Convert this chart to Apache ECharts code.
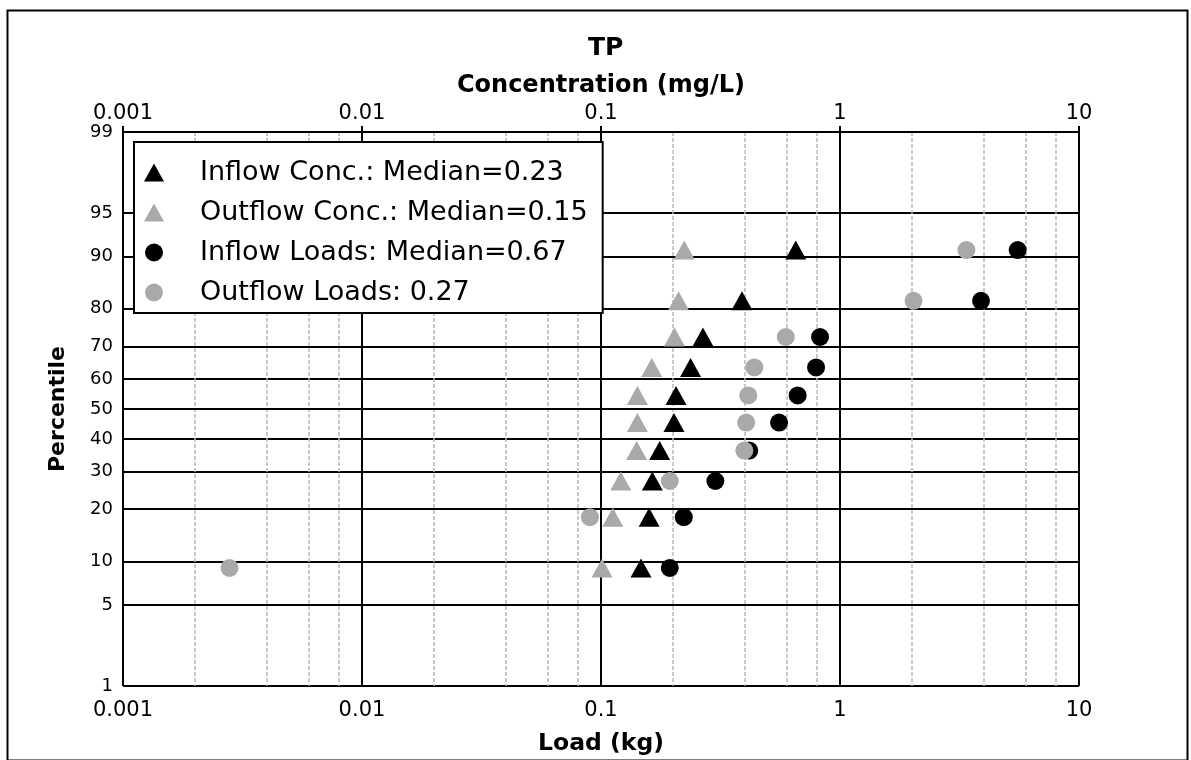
<!DOCTYPE html>
<html>
<head>
<meta charset="utf-8">
<script src="https://cdn.jsdelivr.net/npm/echarts@6/dist/echarts.min.js"></script>
<style>
  html, body { margin: 0; padding: 0; background: #fff; }
  #chart { width: 1191px; height: 760px; }
</style>
</head>
<body>
<div id="chart"></div>
<script>
// plotting positions (percentile), same for all four series
var percentiles = [9.09, 18.18, 27.27, 36.36, 45.45, 54.55, 63.64, 72.73, 81.82, 90.91]

var inflowConc = [0.147, 0.159, 0.164, 0.176, 0.202, 0.206, 0.237, 0.267, 0.389, 0.653]
var outflowConc = [0.101, 0.112, 0.121, 0.141, 0.142, 0.142, 0.163, 0.203, 0.211, 0.223]
var inflowLoads = [0.194, 0.222, 0.301, 0.417, 0.556, 0.665, 0.794, 0.825, 3.89, 5.54]
var outflowLoads = [0.00279, 0.0899, 0.194, 0.398, 0.405, 0.413, 0.438, 0.593, 2.03, 3.38]

var seriesNames = [
  'Inflow Conc.: Median=0.23',
  'Outflow Conc.: Median=0.15',
  'Inflow Loads: Median=0.67',
  'Outflow Loads: 0.27',
]

var percentTicks = [1, 5, 10, 20, 30, 40, 50, 60, 70, 80, 90, 95, 99]
var minorMultipliers = [2, 4, 6, 8]

var FONT = 'DejaVu Sans'
var gray = '#a9a9a9'

// inverse normal cdf (Acklam) -> probability axis
function probit(p) {
  var a = [-39.69683028665376, 220.9460984245205, -275.9285104469687, 138.357751867269, -30.66479806614716, 2.506628277459239]
  var b = [-54.47609879822406, 161.5858368580409, -155.6989798598866, 66.80131188771972, -13.28068155288572]
  var c = [-0.007784894002430293, -0.3223964580411365, -2.400758277161838, -2.549732539343734, 4.374664141464968, 2.938163982698783]
  var d = [0.007784695709041462, 0.3224671290700398, 2.445134137142996, 3.754408661907416]
  var pl = 0.02425, q, r
  if (p < pl) {
    q = Math.sqrt(-2 * Math.log(p))
    return (((((c[0] * q + c[1]) * q + c[2]) * q + c[3]) * q + c[4]) * q + c[5]) / ((((d[0] * q + d[1]) * q + d[2]) * q + d[3]) * q + 1)
  }
  if (p > 1 - pl) {
    q = Math.sqrt(-2 * Math.log(1 - p))
    return -(((((c[0] * q + c[1]) * q + c[2]) * q + c[3]) * q + c[4]) * q + c[5]) / ((((d[0] * q + d[1]) * q + d[2]) * q + d[3]) * q + 1)
  }
  q = p - 0.5
  r = q * q
  return (((((a[0] * r + a[1]) * r + a[2]) * r + a[3]) * r + a[4]) * r + a[5]) * q / (((((b[0] * r + b[1]) * r + b[2]) * r + b[3]) * r + b[4]) * r + 1)
}

var zTicks = percentTicks.map(function (p) { return probit(p / 100) })
var zMin = zTicks[0]
var zMax = zTicks[zTicks.length - 1]

// minor grid (2,4,6,8 of every decade) on a log10 helper axis
var minorTicks = []
for (var dec = -3; dec < 1; dec++) {
  minorMultipliers.forEach(function (m) { minorTicks.push(dec + Math.log10(m)) })
}

function pairs(xs) {
  return xs.map(function (v, i) { return [v, probit(percentiles[i] / 100)] })
}

function percentLabel(v) {
  var best = 0
  for (var i = 1; i < zTicks.length; i++) {
    if (Math.abs(zTicks[i] - v) < Math.abs(zTicks[best] - v)) best = i
  }
  return String(percentTicks[best])
}

var chart = echarts.init(document.getElementById('chart'), null, { renderer: 'canvas' })

var axisLabelBase = { color: '#000', fontFamily: FONT, fontSize: 21 }

var option = {
  backgroundColor: '#fff',
  animation: false,
  textStyle: { fontFamily: FONT },
  title: {
    text: 'TP',
    left: 583,
    top: 31,
    textStyle: { fontFamily: FONT, fontSize: 25, fontWeight: 'bold', color: '#000' },
  },
  grid: {
    left: 123,
    right: 112,
    top: 132,
    bottom: 74,
    containLabel: false,
    outerBoundsMode: 'none',
  },
  legend: {
    orient: 'vertical',
    left: 134,
    top: 142,
    padding: [17, 15, 7, 10],
    itemWidth: 20,
    itemHeight: 18,
    itemGap: 13,
    backgroundColor: '#fff',
    borderColor: '#000',
    borderWidth: 2,
    borderRadius: 0,
    textStyle: { fontFamily: FONT, fontSize: 27, color: '#000', padding: [0, 0, 0, 31] },
    data: seriesNames,
  },
  xAxis: [
    {
      type: 'log',
      logBase: 10,
      min: 0.001,
      max: 10,
      position: 'bottom',
      name: 'Load (kg)',
      nameLocation: 'middle',
      nameGap: 46,
      nameTextStyle: { fontFamily: FONT, fontSize: 23.5, fontWeight: 'bold', color: '#000' },
      axisLine: { show: true, lineStyle: { color: '#000', width: 2 } },
      axisTick: { show: true, inside: false, length: 8, lineStyle: { color: '#000', width: 2 } },
      axisLabel: Object.assign({ margin: 14 }, axisLabelBase),
      splitLine: { show: true, lineStyle: { color: '#000', width: 2 } },
    },
    {
      type: 'log',
      logBase: 10,
      min: 0.001,
      max: 10,
      position: 'top',
      name: 'Concentration (mg/L)',
      nameLocation: 'middle',
      nameGap: 33,
      nameTextStyle: { fontFamily: FONT, fontSize: 24, fontWeight: 'bold', color: '#000' },
      axisLine: { show: true, lineStyle: { color: '#000', width: 2 } },
      axisTick: { show: true, inside: false, length: 6, lineStyle: { color: '#000', width: 2 } },
      axisLabel: Object.assign({ margin: 8 }, axisLabelBase),
      splitLine: { show: false },
    },
    {
      // helper axis in log10 units: only draws the light minor grid
      type: 'value',
      min: -3,
      max: 1,
      position: 'bottom',
      axisLine: { show: false },
      axisLabel: { show: false },
      axisTick: { show: false, customValues: minorTicks },
      splitLine: { show: true, lineStyle: { color: '#b8b8b8', width: 1.5, type: [4, 2] } },
    },
  ],
  yAxis: {
    type: 'value',
    min: zMin,
    max: zMax,
    name: 'Percentile',
    nameLocation: 'middle',
    nameRotate: 90,
    nameGap: 54,
    nameTextStyle: { fontFamily: FONT, fontSize: 22, fontWeight: 'bold', color: '#000' },
    axisLine: { show: true, lineStyle: { color: '#000', width: 2 } },
    axisTick: { show: true, inside: false, length: 8, customValues: zTicks, lineStyle: { color: '#000', width: 1.5 } },
    axisLabel: {
      color: '#000',
      fontFamily: FONT,
      fontSize: 18,
      margin: 10,
      customValues: zTicks,
      formatter: percentLabel,
    },
    splitLine: { show: true, lineStyle: { color: '#000', width: 2 } },
  },
  series: [
    {
      name: seriesNames[0],
      type: 'scatter',
      symbol: 'triangle',
      symbolSize: [21, 19],
      itemStyle: { color: '#000', opacity: 1 },
      data: pairs(inflowConc),
      z: 4,
    },
    {
      name: seriesNames[1],
      type: 'scatter',
      symbol: 'triangle',
      symbolSize: [21, 19],
      itemStyle: { color: gray, opacity: 1 },
      data: pairs(outflowConc),
      z: 3,
    },
    {
      name: seriesNames[2],
      type: 'scatter',
      symbol: 'circle',
      symbolSize: 18,
      itemStyle: { color: '#000', opacity: 1 },
      data: pairs(inflowLoads),
      z: 2,
    },
    {
      name: seriesNames[3],
      type: 'scatter',
      symbol: 'circle',
      symbolSize: 18,
      itemStyle: { color: gray, opacity: 1 },
      data: pairs(outflowLoads),
      z: 5,
    },
  ],
  graphic: [
    {
      type: 'rect',
      left: 5,
      top: 8,
      shape: { width: 1180, height: 750 },
      style: { fill: null, stroke: '#000', lineWidth: 2 },
      silent: true,
    },
  ],
}

chart.setOption(option)
</script>
</body>
</html>
